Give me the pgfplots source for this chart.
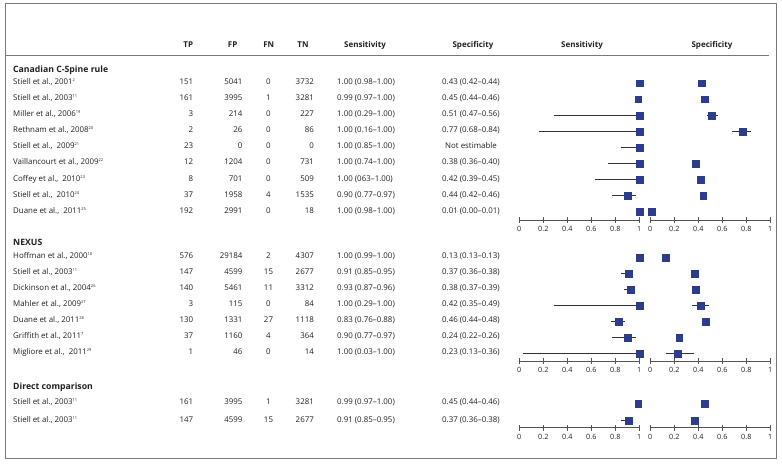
\documentclass[border=0pt]{standalone}
\usepackage{pgfplots}
\usepackage{pgfplotstable}
\pgfplotsset{compat=1.18}
\usepackage{fontspec}
\setmainfont{Open Sans}
\definecolor{mk}{HTML}{2E3C8E}
\definecolor{fr}{HTML}{7A7A7A}
\definecolor{tx}{HTML}{231F20}
\definecolor{axc}{HTML}{555555}
\definecolor{ci}{HTML}{333333}
\newcommand\sref[1]{\raisebox{3pt}{\fontsize{4}{4}\selectfont #1}}
\newcommand\row[8]{%
 \node[anchor=mid west] at (13,#1) {#2};
 \node[anchor=mid east] at (193.3,#1) {#3};
 \node[anchor=mid east] at (242.7,#1) {#4};
 \node[anchor=mid] at (268.5,#1) {#5};
 \node[anchor=mid east] at (314,#1) {#6};
 \node[anchor=mid west] at (337,#1) {#7};
 \node[anchor=mid] at (471,#1) {#8};
}
\pgfplotsset{forest/.style={
  scale only axis, width=120pt, xmin=0, xmax=1,
  axis x line=bottom, axis y line=none,
  axis line style={-, draw=axc, line width=0.7pt},
  xtick={0,0.2,0.4,0.6,0.8,1},
  xticklabels={0,0.2,0.4,0.6,0.8,1},
  tick align=center, major tick length=6pt,
  tick style={draw=axc, line width=0.7pt},
  xticklabel style={font=\fontsize{7.2}{8}\selectfont, text=tx},
  clip=false, anchor=south west,
 },
 pts/.style={only marks, mark=square*, mark size=3.4pt, mark options={fill=mk, draw=mk},
  error bars/.cd, x dir=both, x explicit, error mark=none,
  error bar style={line width=0.7pt, draw=ci}},
}
% Canadian C-Spine rule
\pgfplotstableread{
row est lo hi
-1 1.00 0.98 1.00
-2 0.99 0.97 1.00
-3 1.00 0.29 1.00
-4 1.00 0.16 1.00
-5 1.00 0.85 1.00
-6 1.00 0.74 1.00
-7 1.00 0.63 1.00
-8 0.90 0.77 0.97
-9 1.00 0.98 1.00
}\ccrsens
\pgfplotstableread{
row est lo hi
-1 0.43 0.42 0.44
-2 0.45 0.44 0.46
-3 0.51 0.47 0.56
-4 0.77 0.68 0.84
-6 0.38 0.36 0.40
-7 0.42 0.39 0.45
-8 0.44 0.42 0.46
-9 0.01 0.00 0.01
}\ccrspec
% NEXUS
\pgfplotstableread{
row est lo hi
-1 1.00 0.99 1.00
-2 0.91 0.85 0.95
-3 0.93 0.87 0.96
-4 1.00 0.29 1.00
-5 0.83 0.76 0.88
-6 0.90 0.77 0.97
-7 1.00 0.03 1.00
}\nexsens
\pgfplotstableread{
row est lo hi
-1 0.13 0.13 0.13
-2 0.37 0.36 0.38
-3 0.38 0.37 0.39
-4 0.42 0.35 0.49
-5 0.46 0.44 0.48
-6 0.24 0.22 0.26
-7 0.23 0.13 0.36
}\nexspec
% Direct comparison
\pgfplotstableread{
row est lo hi
-1 0.99 0.97 1.00
-2 0.91 0.85 0.95
}\dirsens
\pgfplotstableread{
row est lo hi
-1 0.45 0.44 0.46
-2 0.37 0.36 0.38
}\dirspec
\begin{document}
\begin{tikzpicture}
\begin{scope}[x=1pt, y=-1pt, every node/.style={inner sep=0pt, font=\fontsize{7.9}{9}\selectfont, text=tx}]
\useasboundingbox (0,0) rectangle (782,465);
\draw[fr, line width=0.9pt] (5,3) rectangle (776,458);
\draw[fr, line width=0.8pt] (5,55.7) -- (769,55.7);
\begin{scope}[every node/.append style={font=\fontsize{8}{9}\selectfont\bfseries}]
\node[anchor=mid] at (188.3,45) {TP};
\node[anchor=mid] at (232.7,45) {FP};
\node[anchor=mid] at (268.7,45) {FN};
\node[anchor=mid] at (303,45) {TN};
\node[anchor=mid] at (365,45) {Sensitivity};
\node[anchor=mid] at (473,45) {Specificity};
\node[anchor=mid] at (582,45) {Sensitivity};
\node[anchor=mid] at (712,45) {Specificity};
\end{scope}
\begin{scope}[every node/.append style={font=\fontsize{8.7}{10}\selectfont\bfseries}]
\node[anchor=mid west] at (13,70) {Canadian C-Spine rule};
\node[anchor=mid west] at (13,243) {NEXUS};
\node[anchor=mid west] at (13,387.3) {Direct comparison};
\end{scope}
\row{82}{Stiell et al., 2001\sref{2}}{151}{5041}{0}{3732}{1.00 (0.98--1.00)}{0.43 (0.42--0.44)}
\row{98}{Stiell et al., 2003\sref{11}}{161}{3995}{1}{3281}{0.99 (0.97--1.00)}{0.45 (0.44--0.46)}
\row{114.1}{Miller et al., 2006\sref{19}}{3}{214}{0}{227}{1.00 (0.29--1.00)}{0.51 (0.47--0.56)}
\row{130.2}{Rethnam et al., 2008\sref{20}}{2}{26}{0}{86}{1.00 (0.16--1.00)}{0.77 (0.68--0.84)}
\row{146.3}{Stiell et al.,\ \ 2009\sref{21}}{23}{0}{0}{0}{1.00 (0.85--1.00)}{Not estimable}
\row{162.3}{Vaillancourt et al., 2009\sref{22}}{12}{1204}{0}{731}{1.00 (0.74--1.00)}{0.38 (0.36--0.40)}
\row{178.4}{Coffey et al.,\ \ 2010\sref{23}}{8}{701}{0}{509}{1.00 (063--1.00)}{0.42 (0.39--0.45)}
\row{194.4}{Stiell et al.,\ \ 2010\sref{24}}{37}{1958}{4}{1535}{0.90 (0.77--0.97)}{0.44 (0.42--0.46)}
\row{210.5}{Duane et al.,\ \ 2011\sref{25}}{192}{2991}{0}{18}{1.00 (0.98--1.00)}{0.01 (0.00--0.01)}
\row{256}{Hoffman et al., 2000\sref{10}}{576}{29184}{2}{4307}{1.00 (0.99--1.00)}{0.13 (0.13--0.13)}
\row{272}{Stiell et al., 2003\sref{11}}{147}{4599}{15}{2677}{0.91 (0.85--0.95)}{0.37 (0.36--0.38)}
\row{288.1}{Dickinson et al., 2004\sref{26}}{140}{5461}{11}{3312}{0.93 (0.87--0.96)}{0.38 (0.37--0.39)}
\row{304.2}{Mahler et al., 2009\sref{27}}{3}{115}{0}{84}{1.00 (0.29--1.00)}{0.42 (0.35--0.49)}
\row{320.2}{Duane et al., 2011\sref{28}}{130}{1331}{27}{1118}{0.83 (0.76--0.88)}{0.46 (0.44--0.48)}
\row{336.3}{Griffith et al., 2011\sref{7}}{37}{1160}{4}{364}{0.90 (0.77--0.97)}{0.24 (0.22--0.26)}
\row{352.3}{Migliore et al.,\ \ 2011\sref{29}}{1}{46}{0}{14}{1.00 (0.03--1.00)}{0.23 (0.13--0.36)}
\row{402.3}{Stiell et al., 2003\sref{11}}{161}{3995}{1}{3281}{0.99 (0.97--1.00)}{0.45 (0.44--0.46)}
\row{419.5}{Stiell et al., 2003\sref{11}}{147}{4599}{15}{2677}{0.91 (0.85--0.95)}{0.37 (0.36--0.38)}
\end{scope}
% Canadian
\begin{axis}[forest, at={(519.3pt,-220pt)}, height=152.8pt, ymin=-9.52, ymax=0]
\addplot[pts] table[x=est, y=row, x error plus expr=\thisrow{hi}-\thisrow{est}, x error minus expr=\thisrow{est}-\thisrow{lo}] {\ccrsens};
\end{axis}
\begin{axis}[forest, at={(650.3pt,-220pt)}, height=152.8pt, ymin=-9.52, ymax=0]
\addplot[pts] table[x=est, y=row, x error plus expr=\thisrow{hi}-\thisrow{est}, x error minus expr=\thisrow{est}-\thisrow{lo}] {\ccrspec};
\end{axis}
% NEXUS
\begin{axis}[forest, at={(519.3pt,-361pt)}, height=119.6pt, ymin=-7.45, ymax=0]
\addplot[pts] table[x=est, y=row, x error plus expr=\thisrow{hi}-\thisrow{est}, x error minus expr=\thisrow{est}-\thisrow{lo}] {\nexsens};
\end{axis}
\begin{axis}[forest, at={(650.3pt,-361pt)}, height=119.6pt, ymin=-7.45, ymax=0]
\addplot[pts] table[x=est, y=row, x error plus expr=\thisrow{hi}-\thisrow{est}, x error minus expr=\thisrow{est}-\thisrow{lo}] {\nexspec};
\end{axis}
% Direct
\begin{axis}[forest, at={(519.3pt,-427.7pt)}, height=39.9pt, ymin=-2.45, ymax=0]
\addplot[pts] table[x=est, y=row, x error plus expr=\thisrow{hi}-\thisrow{est}, x error minus expr=\thisrow{est}-\thisrow{lo}] {\dirsens};
\end{axis}
\begin{axis}[forest, at={(650.3pt,-427.7pt)}, height=39.9pt, ymin=-2.45, ymax=0]
\addplot[pts] table[x=est, y=row, x error plus expr=\thisrow{hi}-\thisrow{est}, x error minus expr=\thisrow{est}-\thisrow{lo}] {\dirspec};
\end{axis}
\end{tikzpicture}
\end{document}
